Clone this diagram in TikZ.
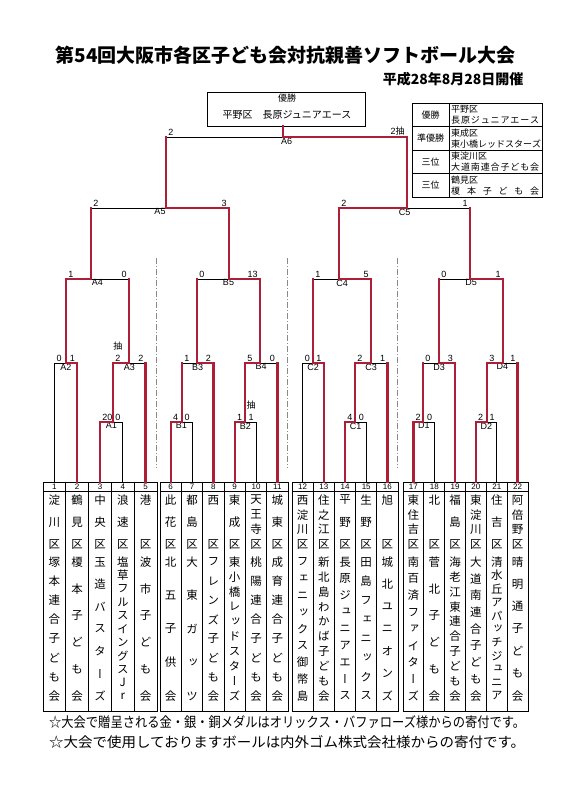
\documentclass[tikz,border=0pt]{standalone}
\usepackage{fontspec}
\usepackage{graphicx}
\setmainfont{Liberation Sans}
\newfontfamily\jp{Noto Sans CJK JP}
\newfontfamily\jpv{Noto Sans CJK JP}[RawFeature=+vert]
\usetikzlibrary{calc,positioning}
\definecolor{BracketRed}{HTML}{AE1E36}
\definecolor{BracketGray}{HTML}{8A8A8A}

% one team column: number, x, ward letters, team letters
\newcommand{\teamcol}[4]{%
  \coordinate (t#1) at (#2,482);
  \node[teamno] (no#1) at (#2,486.5) {#1};
  \foreach \c [count=\k] in {#3} {\xdef\wardn{\k}}
  \foreach \c [count=\k] in {#3}
    \node[teamchar] (w#1-\k) at (#2,{500+(\k-1)*44/(\wardn-1)}) {\c};
  \foreach \c [count=\k] in {#4} {\xdef\teamn{\k}}
  \foreach \c [count=\k] in {#4}
    \node[teamchar] (n#1-\k) at (#2,{562+(\k-1)*134/(\teamn-1)}) {\c};
}
\newcommand{\spreadtext}[2]{\hbox to #1{\foreach \c [count=\k] in #2{\ifnum\k>1 \hfill\fi\c}}}

\begin{document}
\begin{tikzpicture}[x=1pt,y=-1pt,line join=miter,
  redpath/.style={BracketRed,line width=2.4pt,line cap=rect},
  blackpath/.style={black,line width=0.7pt},
  boxline/.style={black,line width=0.7pt},
  divider/.style={BracketGray,line width=0.7pt,dash pattern=on 6pt off 2pt on 1pt off 2pt},
  score/.style={font=\fontsize{9}{9}\selectfont,inner sep=0.6pt},
  boutlabel/.style={font=\fontsize{9}{9}\selectfont,inner sep=0.6pt,below},
  teamno/.style={font=\fontsize{8}{8}\selectfont,inner sep=0pt},
  teamchar/.style={font=\jpv\fontsize{11.5}{11.5}\selectfont,inner sep=0pt},
  tabletext/.style={font=\jp\fontsize{9}{9}\selectfont,inner sep=0pt}]
  \path[fill=white,use as bounding box] (0,0) rectangle (565,800);

  % heading
  \node[font=\jp\bfseries\fontsize{19}{19}\selectfont] (title) at (285.5,55)
    {第54回大阪市各区子ども会対抗親善ソフトボール大会};
  \node[font=\jp\bfseries\fontsize{14}{14}\selectfont,anchor=east] (date) at (527,79)
    {平成28年8月28日開催};

  % winner box
  \node[draw,boxline,minimum width=158,minimum height=34,inner sep=0] (champ) at (286,109) {};
  \node[tabletext] (champhead) at (287,98) {優勝};
  \node[font=\jp\fontsize{10}{10}\selectfont,inner sep=0] (champname) at (287,115)
    {平野区　長原ジュニアエース};

  % result table
  \draw[boxline] (412,103) rectangle (542,197);
  \draw[boxline] (449,103) -- (449,197);
  \foreach \yy in {126.5,150,173.5}
    \draw[boxline] (412,\yy) -- (542,\yy);
  \foreach \rank/\ward/\team [count=\row] in {
      優勝/平野区/{長,原,ジ,ュ,ニ,ア,エ,ー,ス},
      準優勝/東成区/{東,小,橋,レ,ッ,ド,ス,タ,ー,ズ},
      三位/東淀川区/{大,道,南,連,合,子,ど,も,会},
      三位/鶴見区/{榎,本,子,ど,も,会}}{
    \pgfmathsetmacro\ry{103+(\row-0.5)*23.5}
    \node[tabletext] (rank\row) at (430.5,\ry) {\rank};
    \node[tabletext,anchor=west] (ward\row) at (451,\ry-5.5) {\ward};
    \node[tabletext,anchor=west] (team\row) at (451,\ry+5.5) {\spreadtext{88pt}{\team}};
  }

  % team boxes
  \foreach \gl/\gr/\gn in {43/157/5,160/288/6,292/398/5,403/528/6}{
    \pgfmathsetmacro\gw{(\gr-\gl)/\gn}
    \draw[boxline] (\gl,482) rectangle (\gr,711);
    \draw[boxline] (\gl,491) -- (\gr,491);
    \foreach \j in {2,...,\gn}
      \draw[boxline] ({\gl+(\j-1)*\gw},482) -- ({\gl+(\j-1)*\gw},711);
  }
  \teamcol{1}{54.4}{淀,川,区}{塚,本,連,合,子,ど,も,会}
  \teamcol{2}{77.2}{鶴,見,区}{榎,本,子,ど,も,会}
  \teamcol{3}{100}{中,央,区}{玉,造,バ,ス,タ,ー,ズ}
  \teamcol{4}{122.8}{浪,速,区}{塩,草,フ,ル,ス,イ,ン,グ,ス,J,r}
  \teamcol{5}{145.6}{港,区}{波,市,子,ど,も,会}
  \teamcol{6}{170.7}{此,花,区}{北,五,子,供,会}
  \teamcol{7}{192}{都,島,区}{大,東,ガ,ッ,ツ}
  \teamcol{8}{213.3}{西,区}{フ,レ,ン,ズ,子,ど,も,会}
  \teamcol{9}{234.7}{東,成,区}{東,小,橋,レ,ッ,ド,ス,タ,ー,ズ}
  \teamcol{10}{256}{天,王,寺,区}{桃,陽,連,合,子,ど,も,会}
  \teamcol{11}{277.3}{城,東,区}{成,育,連,合,子,ど,も,会}
  \teamcol{12}{302.6}{西,淀,川,区}{フ,ェ,ニ,ッ,ク,ス,御,幣,島}
  \teamcol{13}{323.8}{住,之,江,区}{新,北,島,わ,か,ば,子,ど,も,会}
  \teamcol{14}{345}{平,野,区}{長,原,ジ,ュ,ニ,ア,エ,ー,ス}
  \teamcol{15}{366.2}{生,野,区}{田,島,フ,ェ,ニ,ッ,ク,ス}
  \teamcol{16}{387.4}{旭,区}{城,北,ユ,ニ,オ,ン,ズ}
  \teamcol{17}{413.4}{東,住,吉,区}{南,百,済,フ,ァ,イ,タ,ー,ズ}
  \teamcol{18}{434.3}{北,区}{菅,北,子,ど,も,会}
  \teamcol{19}{455.1}{福,島,区}{海,老,江,東,連,合,子,ど,も,会}
  \teamcol{20}{475.9}{東,淀,川,区}{大,道,南,連,合,子,ど,も,会}
  \teamcol{21}{496.8}{住,吉,区}{清,水,丘,ア,パ,ッ,チ,ジ,ュ,ニ,ア}
  \teamcol{22}{517.6}{阿,倍,野,区}{晴,明,通,子,ど,も,会}

  % bouts: name/x/y/left/right/scores
  \foreach \m/\bx/\by/\lc/\rc/\scl/\scr in {
      A1/113/422/t3/t4/20/0, A2/66/363/t1/t2/0/1, A3/129/363/A1/t5/2/2, A4/91/279/A2/A3/1/0,
      B1/182/422/t6/t7/4/0, B2/245/422/t9/t10/1/1, B3/197/363/B1/t8/1/2,
      B4/260/363/B2/t11/5/0, B5/229/279/B3/B4/0/13, A5/166/208/A4/B5/2/3,
      C1/355/422/t14/t15/4/0, C2/313/363/t12/t13/0/1, C3/371/363/C1/t16/2/1, C4/339/279/C2/C3/1/5,
      D1/423/422/t17/t18/2/0, D2/487/422/t20/t21/2/1, D3/439/363/D1/t19/0/3,
      D4/503/363/D2/t22/3/1, D5/470/279/D3/D4/0/1,
      C5/407/208/C4/D5/2/1, A6/283/137/A5/C5/2/{2{\jp 抽}}}{
    \coordinate (\m) at (\bx,\by);
    \node[boutlabel] (\m-lab) at ($(\lc |- \m)!.5!(\rc |- \m)$) {\m};
    \node[score,anchor=south west] (\m-ls) at ($(\lc |- \m)+(1.5,-1)$) {\scl};
    \node[score,anchor=south east] (\m-rs) at ($(\rc |- \m)+(-1.5,-1)$) {\scr};
  }
  \node[score,font=\jp\fontsize{9}{9}\selectfont,above=3pt of A3-ls] (A3-lot) {抽};
  \node[score,font=\jp\fontsize{9}{9}\selectfont,above=3pt of B2-rs] (B2-lot) {抽};

  % block dividers
  \foreach \dx in {156,287,397}
    \draw[divider] (\dx,258) -- (\dx,468);

  % losing lines
  \foreach \src/\dst in {t1/A2,t4/A1,t7/B1,t10/B2,t12/C2,t15/C1,t18/D1,t21/D2}
    \draw[blackpath] (\src) |- (\dst);
  \foreach \src/\dst in {t5/A3,A3/A4,A4/A5,A5/A6,B1/B3,t11/B4,B3/B5,t16/C3,C2/C4,D5/C5,D1/D3,t22/D4,D3/D5}{
    \draw[blackpath] (\src |- \dst) -- (\dst);
    \draw[redpath] (\src) -- (\src |- \dst);
  }
  % winning lines
  \foreach \src/\dst in {t2/A2,t3/A1,A1/A3,A2/A4,B5/A5,C5/A6,t6/B1,t8/B3,t9/B2,B2/B4,B4/B5,
      t13/C2,t14/C1,C1/C3,C3/C4,C4/C5,t17/D1,t19/D3,t20/D2,D2/D4,D4/D5}
    \draw[redpath] (\src) |- (\dst);
  \draw[redpath] (A6) -- (A6 |- champ.south);

  % notes
  \node[font=\jp\fontsize{14}{14}\selectfont,anchor=west,inner sep=0] (note1) at (49,722)
    {\resizebox{476pt}{\height}{☆大会で贈呈される金・銀・銅メダルはオリックス・バファローズ様からの寄付です。}};
  \node[font=\jp\fontsize{14}{14}\selectfont,anchor=west,inner sep=0] (note2) at (49,742)
    {\resizebox{476pt}{\height}{☆大会で使用しておりますボールは内外ゴム株式会社様からの寄付です。}};
\end{tikzpicture}
\end{document}
